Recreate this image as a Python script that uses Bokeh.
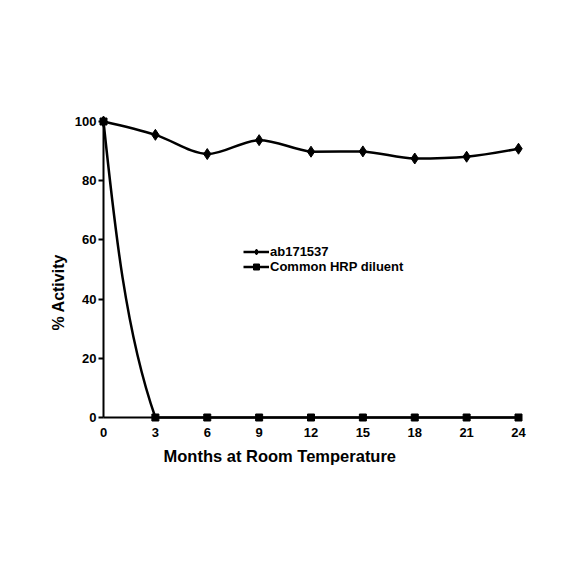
import math
from bokeh.plotting import figure
from bokeh.models import Range1d, FixedTicker, Legend, LegendItem, Title, ColumnDataSource
from bokeh.embed import file_html
from bokeh.resources import INLINE

# ---- data ----
months = [0, 3, 6, 9, 12, 15, 18, 21, 24]
ab171537 = [100, 95.5, 89.0, 93.7, 89.8, 89.9, 87.5, 88.1, 90.8]
common_hrp = [100, 0, 0, 0, 0, 0, 0, 0, 0]
series_names = ["ab171537", "Common HRP diluent"]
x_ticks = [0, 3, 6, 9, 12, 15, 18, 21, 24]
y_ticks = [0, 20, 40, 60, 80, 100]
x_title = "Months at Room Temperature"
y_title = "% Activity"

# ---- layout ----
X0, X1 = 0, 24
Y0, Y1 = 0, 100
FW, FH = 415, 296
KX = FW / (X1 - X0)   # px per month
KY = FH / (Y1 - Y0)   # px per % unit
FONT = "Liberation Sans"


def smooth_segments(xs, ys):
    """Excel-like smoothed line: cubic Bezier segments, tangents weighted by
    screen-space segment lengths, control points kept inside each segment's
    y-range (no overshoot)."""
    P = [(x * KX, y * KY) for x, y in zip(xs, ys)]
    n = len(P)
    cin = [None] * n
    cout = [None] * n
    for i in range(1, n - 1):
        tx = P[i + 1][0] - P[i - 1][0]
        ty = P[i + 1][1] - P[i - 1][1]
        dp = math.hypot(P[i][0] - P[i - 1][0], P[i][1] - P[i - 1][1])
        dn = math.hypot(P[i + 1][0] - P[i][0], P[i + 1][1] - P[i][1])
        s = dp + dn
        cin[i] = (P[i][0] - tx * dp / s / 3, P[i][1] - ty * dp / s / 3)
        cout[i] = (P[i][0] + tx * dn / s / 3, P[i][1] + ty * dn / s / 3)
    cout[0] = ((P[0][0] + cin[1][0]) / 2, (P[0][1] + cin[1][1]) / 2)
    cin[n - 1] = ((P[n - 1][0] + cout[n - 2][0]) / 2, (P[n - 1][1] + cout[n - 2][1]) / 2)
    seg = dict(x0=[], y0=[], x1=[], y1=[], cx0=[], cy0=[], cx1=[], cy1=[])
    for i in range(n - 1):
        lo = min(P[i][1], P[i + 1][1])
        hi = max(P[i][1], P[i + 1][1])
        c0 = (cout[i][0], min(max(cout[i][1], lo), hi))
        c1 = (cin[i + 1][0], min(max(cin[i + 1][1], lo), hi))
        seg["x0"].append(P[i][0] / KX)
        seg["y0"].append(P[i][1] / KY)
        seg["x1"].append(P[i + 1][0] / KX)
        seg["y1"].append(P[i + 1][1] / KY)
        seg["cx0"].append(c0[0] / KX)
        seg["cy0"].append(c0[1] / KY)
        seg["cx1"].append(c1[0] / KX)
        seg["cy1"].append(c1[1] / KY)
    return ColumnDataSource(seg)


p = figure(frame_width=FW, frame_height=FH,
           x_range=Range1d(X0, X1), y_range=Range1d(Y0, Y1),
           output_backend="svg", toolbar_location=None,
           min_border_left=103, min_border_right=50,
           min_border_top=121, min_border_bottom=151)
p.background_fill_color = "white"
p.border_fill_color = "white"
p.outline_line_color = None
p.xgrid.grid_line_color = None
p.ygrid.grid_line_color = None

for ax in (p.xaxis[0], p.yaxis[0]):
    ax.axis_line_color = "black"
    ax.axis_line_width = 2
    ax.major_tick_line_color = "black"
    ax.major_tick_line_width = 2
    ax.minor_tick_line_color = None
    ax.major_tick_in = 0
    ax.major_label_text_font = FONT
    ax.major_label_text_font_style = "bold"
    ax.major_label_text_font_size = "13px"
    ax.major_label_text_color = "black"

p.xaxis.ticker = FixedTicker(ticks=x_ticks)
p.yaxis.ticker = FixedTicker(ticks=y_ticks)
p.xaxis.major_tick_out = 0
p.xaxis.major_label_standoff = 10
p.yaxis.major_tick_out = 5
p.yaxis.major_label_standoff = 2

# series (drawn above the frame clip so edge markers stay whole)
src1 = smooth_segments(months, ab171537)
src2 = smooth_segments(months, common_hrp)
r1l = p.bezier(x0="x0", y0="y0", x1="x1", y1="y1", cx0="cx0", cy0="cy0",
               cx1="cx1", cy1="cy1", source=src1, line_color="black",
               line_width=2.5, level="overlay")
r2l = p.bezier(x0="x0", y0="y0", x1="x1", y1="y1", cx0="cx0", cy0="cy0",
               cx1="cx1", cy1="cy1", source=src2, line_color="black",
               line_width=2.5, level="overlay")
r1m = p.scatter(months, ab171537, marker="diamond", size=11,
                fill_color="black", line_color="black", level="overlay")
r2m = p.scatter(months, common_hrp, marker="square", size=7,
                fill_color="black", line_color="black", level="overlay")

legend = Legend(items=[LegendItem(label=series_names[0], renderers=[r1l, r1m]),
                       LegendItem(label=series_names[1], renderers=[r2l, r2m])],
                location=(140, 143), orientation="vertical",
                padding=0, margin=0, spacing=0,
                glyph_width=26, glyph_height=15, label_height=15, label_standoff=1,
                label_text_font=FONT, label_text_font_style="bold",
                label_text_font_size="13px", label_text_color="black",
                border_line_color=None, background_fill_alpha=0)
p.add_layout(legend)

p.add_layout(Title(text=x_title, align="left", offset=60, standoff=11,
                   text_font=FONT, text_font_style="bold", text_font_size="16.5px",
                   text_color="black"), "below")
p.add_layout(Title(text=y_title, align="left", offset=87, standoff=10,
                   text_font=FONT, text_font_style="bold", text_font_size="16px",
                   text_color="black"), "left")

open("out.html", "w").write(file_html(p, INLINE))
